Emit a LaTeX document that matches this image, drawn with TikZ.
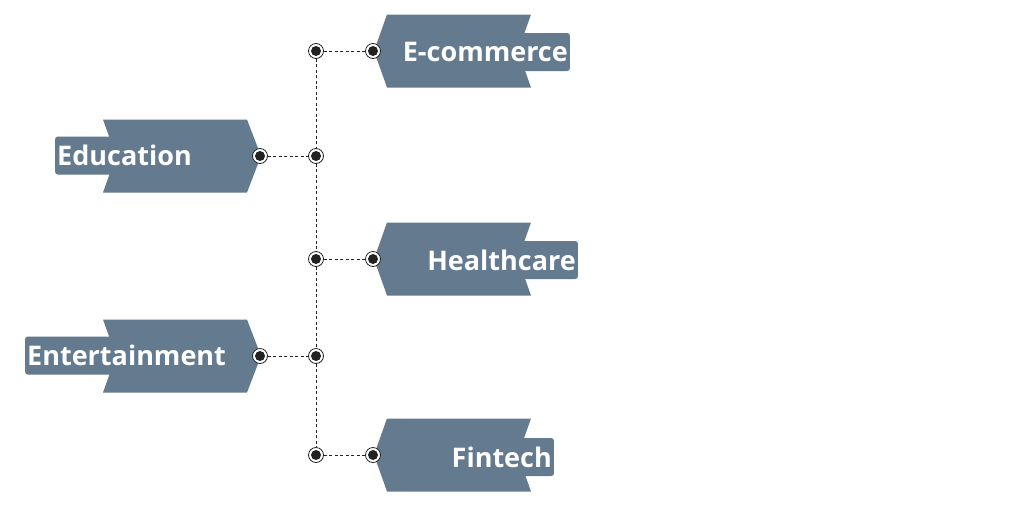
\documentclass[tikz,border=0pt]{standalone}
\usepackage{fontspec}
\setmainfont{Open Sans}
\definecolor{slate}{HTML}{647A8E}
\definecolor{ink}{HTML}{222222}
\tikzset{
  tagbox/.style={fill=slate, text=white, rounded corners=2.5pt, minimum height=38pt,
    inner xsep=2pt, inner ysep=0pt, font=\fontsize{27}{27}\selectfont\bfseries},
  dot/.style={circle, draw=ink, line width=0.8pt, fill=white, minimum size=15pt, inner sep=0pt,
    path picture={\fill[ink] (path picture bounding box.center) circle (5pt);}},
  wire/.style={draw=ink, dash pattern=on 3pt off 2.5pt, line width=0.9pt}
}
\begin{document}
\begin{tikzpicture}[x=1pt,y=-1pt]
\useasboundingbox[fill=white] (0,0) rectangle (1024,512);
% left side
\fill[slate] (103,119.5) -- (247,119.5) -- (261,156) -- (247,192.5) -- (103,192.5) -- (116,156) -- cycle;
\node[tagbox, anchor=west] (edu) at (55,155.5) {Education};
\fill[slate] (103,319.5) -- (247,319.5) -- (261,356) -- (247,392.5) -- (103,392.5) -- (116,356) -- cycle;
\node[tagbox, anchor=west] (ent) at (25,355.5) {Entertainment};
% right side
\fill[slate] (387,14.5) -- (531,14.5) -- (518,51) -- (531,87.5) -- (387,87.5) -- (374,51) -- cycle;
\node[tagbox, anchor=east] (ecom) at (570,52) {E-commerce};
\fill[slate] (387,222.5) -- (531,222.5) -- (518,259) -- (531,295.5) -- (387,295.5) -- (374,259) -- cycle;
\node[tagbox, anchor=east] (health) at (578,260) {Healthcare};
\fill[slate] (387,418.5) -- (531,418.5) -- (518,455) -- (531,491.5) -- (387,491.5) -- (374,455) -- cycle;
\node[tagbox, anchor=east] (fin) at (554,457) {Fintech};
% dots
\node[dot] (edu-d) at (260,156) {};
\node[dot] (ent-d) at (260,356) {};
\node[dot] (ecom-d) at (373,51) {};
\node[dot] (health-d) at (373,259) {};
\node[dot] (fin-d) at (373,455) {};
\node[dot] (j1) at (316,51) {};
\node[dot] (j2) at (316,156) {};
\node[dot] (j3) at (316,259) {};
\node[dot] (j4) at (316,356) {};
\node[dot] (j5) at (316,455) {};
% links
\draw[wire] (j1) -- (j2);
\draw[wire] (j2) -- (j3);
\draw[wire] (j3) -- (j4);
\draw[wire] (j4) -- (j5);
\draw[wire] (edu-d) -- (j2);
\draw[wire] (ent-d) -- (j4);
\draw[wire] (j1) -- (ecom-d);
\draw[wire] (j3) -- (health-d);
\draw[wire] (j5) -- (fin-d);
\end{tikzpicture}
\end{document}
